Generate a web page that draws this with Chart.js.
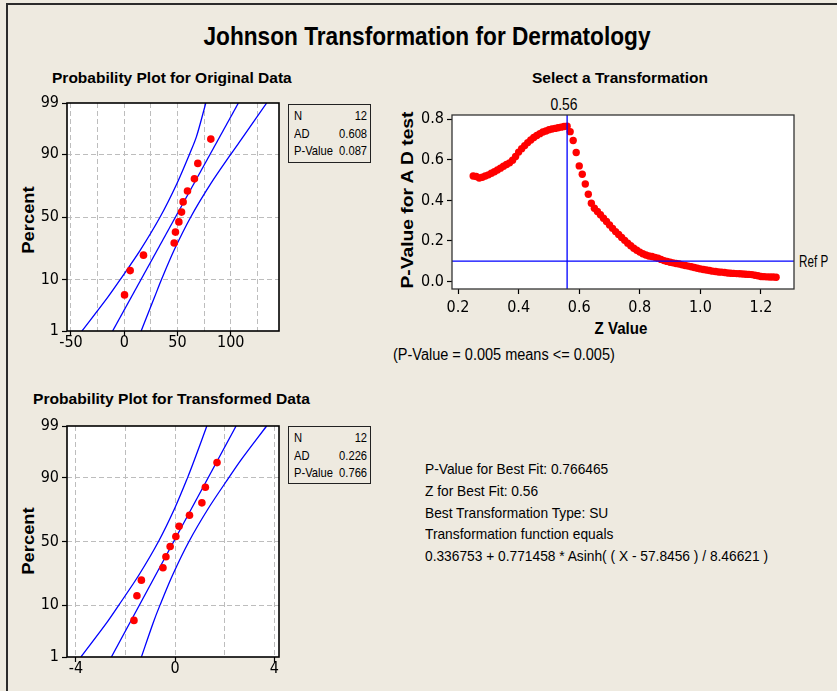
<!DOCTYPE html>
<html><head><meta charset="utf-8">
<script src="https://cdn.jsdelivr.net/npm/chart.js@4.4.1/dist/chart.umd.min.js"></script>
<style>
html,body{margin:0;padding:0;}
body{width:837px;height:691px;background:#EEEAE0;position:relative;overflow:hidden;font-family:'Liberation Sans',Arial,sans-serif;color:#000;}
.t{position:absolute;white-space:nowrap;line-height:1;}
.c{transform-origin:center center;}
.l{transform-origin:left center;}
.b{font-weight:bold;}
canvas{position:absolute;}
.frame{position:absolute;left:6px;top:3px;width:840px;height:700px;border-top:2px solid #2b2b2b;border-left:2px solid #2b2b2b;}
.box{position:absolute;border:1px solid #222;box-sizing:border-box;}
.rows{position:absolute;left:5px;top:2px;width:85px;transform-origin:left top;transform:scaleX(0.86);font-size:13px;}
.rows div{display:flex;justify-content:space-between;height:17.5px;line-height:17.5px;white-space:nowrap;}
</style></head><body>
<div class="frame"></div>
<div class="t c b" data-pre="translate(-50%,-50%)" data-w="447" style="left:426.5px;top:36px;font-size:25px;">Johnson Transformation for Dermatology</div>
<div class="t l b" data-pre="translate(0,-50%)" data-w="240" style="left:52px;top:77px;font-size:15px;">Probability Plot for Original Data</div>
<div class="t c b" data-pre="translate(-50%,-50%)" data-w="176" style="left:620px;top:77px;font-size:15px;">Select a Transformation</div>
<div class="t l b" data-pre="translate(0,-50%)" data-w="277" style="left:33px;top:398px;font-size:15px;">Probability Plot for Transformed Data</div>
<div class="t c b" data-pre="translate(-50%,-50%) rotate(-90deg)" data-w="67" style="left:28px;top:220px;font-size:17px;">Percent</div>
<div class="t c b" data-pre="translate(-50%,-50%) rotate(-90deg)" data-w="67" style="left:28px;top:541px;font-size:17px;">Percent</div>
<div class="t c b" data-pre="translate(-50%,-50%) rotate(-90deg)" data-w="177" style="left:406.5px;top:200px;font-size:16.5px;">P-Value for A D test</div>
<div class="t c b" data-pre="translate(-50%,-50%)" data-w="53" style="left:621px;top:328px;font-size:16.5px;">Z Value</div>
<div class="t c" data-pre="translate(-50%,-50%)" data-w="27" style="left:564px;top:104px;font-size:16.5px;">0.56</div>
<div class="t l" data-pre="translate(0,-50%)" data-w="29" style="left:799px;top:261px;font-size:16.5px;">Ref P</div>
<div class="t l" data-pre="translate(0,-50%)" data-w="222" style="left:393px;top:355px;font-size:16px;">(P-Value = 0.005 means &lt;= 0.005)</div>
<div class="box" style="left:288px;top:104px;width:83px;height:59px;">
  <div class="rows">
  <div><span>N</span><span>12</span></div>
  <div><span>AD</span><span>0.608</span></div>
  <div><span>P-Value</span><span>0.087</span></div>
  </div>
</div>
<div class="box" style="left:288px;top:426px;width:83px;height:58px;">
  <div class="rows">
  <div><span>N</span><span>12</span></div>
  <div><span>AD</span><span>0.226</span></div>
  <div><span>P-Value</span><span>0.766</span></div>
  </div>
</div>
<div class="t" data-pre="" data-w="343" style="left:425px;top:458px;font-size:15px;line-height:21.8px;transform-origin:left top;">
P-Value for Best Fit: 0.766465<br>Z for Best Fit: 0.56<br>Best Transformation Type: SU<br>Transformation function equals<br>0.336753 + 0.771458 * Asinh( ( X - 57.8456 ) / 8.46621 )
</div>
<canvas id="c1" width="260" height="275" style="left:30px;top:89px;"></canvas>
<canvas id="c2" width="437" height="250" style="left:400px;top:95px;"></canvas>
<canvas id="c3" width="260" height="279" style="left:30px;top:412px;"></canvas>
<script>
// ---------- data ----------
const rankPercent = [5.6, 13.7, 21.8, 29.8, 37.9, 46.0, 54.0, 62.1, 70.2, 78.2, 86.3, 94.4];
const originalData = [0.3, 5.6, 18.1, 46.9, 48.1, 51.3, 53.8, 55.3, 59.4, 65.9, 69.1, 81.3];
const transformedData = [-1.66, -1.54, -1.36, -0.49, -0.37, -0.20, 0.03, 0.16, 0.58, 1.08, 1.22, 1.69];
const fitPercent = [1, 99];
const origFit = [-10.9, 107.2];
const transFit = [-2.57, 2.46];
const bandPercent = [1, 5, 10, 25, 50, 75, 90, 95, 99];
const origLower = [-39.7, -15.7, -3.9, 15.1, 33.7, 49.3, 61.3, 67.9, 76.6];
const origUpper = [15.9, 28.3, 34.9, 46.9, 62.5, 81.1, 100.1, 111.9, 133.75];
const transLower = [-3.80, -2.77, -2.27, -1.46, -0.67, -0.01, 0.50, 0.78, 1.28];
const transUpper = [-1.36, -0.89, -0.61, -0.10, 0.56, 1.35, 2.16, 2.66, 3.69];
const probTickLabels = [1, 10, 50, 90, 99];
const origXGrid = [-50, -25, 0, 25, 50, 75, 100, 125];
const origXLabels = [-50, 0, 50, 100];
const transXGrid = [-4, -2, 0, 2, 4];
const transXLabels = [-4, 0, 4];
const zTicks = [0.2, 0.4, 0.6, 0.8, 1.0, 1.2];
const pTicks = [0.0, 0.2, 0.4, 0.6, 0.8];
const zValues = [0.25,0.26,0.27,0.28,0.29,0.30,0.31,0.32,0.33,0.34,0.35,0.36,0.37,0.38,0.39,0.40,0.41,0.42,0.43,0.44,0.45,0.46,0.47,0.48,0.49,0.50,0.51,0.52,0.53,0.54,0.55,0.56,0.57,0.58,0.59,0.60,0.61,0.62,0.63,0.64,0.65,0.66,0.67,0.68,0.69,0.70,0.71,0.72,0.73,0.74,0.75,0.76,0.77,0.78,0.79,0.80,0.81,0.82,0.83,0.84,0.85,0.86,0.87,0.88,0.89,0.90,0.91,0.92,0.93,0.94,0.95,0.96,0.97,0.98,0.99,1.00,1.01,1.02,1.03,1.04,1.05,1.06,1.07,1.08,1.09,1.10,1.11,1.12,1.13,1.14,1.15,1.16,1.17,1.18,1.19,1.20,1.21,1.22,1.23,1.24,1.25];
const pValues = [0.520,0.518,0.510,0.514,0.520,0.526,0.534,0.541,0.550,0.559,0.568,0.577,0.585,0.598,0.616,0.638,0.655,0.670,0.685,0.698,0.710,0.720,0.729,0.737,0.742,0.748,0.752,0.755,0.758,0.761,0.764,0.766,0.739,0.695,0.636,0.570,0.529,0.481,0.430,0.386,0.361,0.345,0.329,0.312,0.296,0.279,0.262,0.246,0.232,0.217,0.203,0.189,0.176,0.164,0.154,0.145,0.137,0.131,0.126,0.123,0.119,0.115,0.109,0.103,0.099,0.095,0.092,0.089,0.086,0.082,0.079,0.076,0.073,0.069,0.065,0.062,0.059,0.057,0.054,0.051,0.049,0.047,0.046,0.044,0.042,0.041,0.040,0.039,0.038,0.037,0.036,0.035,0.034,0.031,0.028,0.025,0.024,0.023,0.022,0.022,0.021];
const bestZ = 0.56;
const refP = 0.1;

// ---------- text fitting (compress text horizontally like the reference) ----------
document.querySelectorAll('[data-w]').forEach(el=>{
  const k = (+el.dataset.w) / el.offsetWidth;
  el.style.transform = (el.dataset.pre || '') + ' scaleX(' + k.toFixed(4) + ')';
});

// ---------- helpers ----------
function probit(p){
  const a=[-3.969683028665376e+01,2.209460984245205e+02,-2.759285104469687e+02,1.383577518672690e+02,-3.066479806614716e+01,2.506628277459239e+00];
  const b=[-5.447609879822406e+01,1.615858368580409e+02,-1.556989798598866e+02,6.680131188771972e+01,-1.328068155288572e+01];
  const c=[-7.784894002430293e-03,-3.223964580411365e-01,-2.400758277161838e+00,-2.549732539343734e+00,4.374664141464968e+00,2.938163982698783e+00];
  const d=[7.784695709041462e-03,3.224671290700398e-01,2.445134137142996e+00,3.754408661907416e+00];
  const pl=0.02425, ph=1-pl; let q,r;
  if(p<pl){q=Math.sqrt(-2*Math.log(p));return (((((c[0]*q+c[1])*q+c[2])*q+c[3])*q+c[4])*q+c[5])/((((d[0]*q+d[1])*q+d[2])*q+d[3])*q+1);}
  if(p<=ph){q=p-0.5;r=q*q;return (((((a[0]*r+a[1])*r+a[2])*r+a[3])*r+a[4])*r+a[5])*q/(((((b[0]*r+b[1])*r+b[2])*r+b[3])*r+b[4])*r+1);}
  q=Math.sqrt(-2*Math.log(1-p));return -(((((c[0]*q+c[1])*q+c[2])*q+c[3])*q+c[4])*q+c[5])/((((d[0]*q+d[1])*q+d[2])*q+d[3])*q+1);
}
const FONT = "'DejaVu Sans Condensed','Liberation Sans',sans-serif";
const tickFont = {family: FONT, size: 16};
const frame = (color, width) => ({
  id: 'frame',
  beforeDraw(ch){const a=ch.chartArea,c=ch.ctx;c.save();c.fillStyle='#ffffff';c.fillRect(a.left,a.top,a.right-a.left,a.bottom-a.top);c.restore();},
  afterDraw(ch){const a=ch.chartArea,c=ch.ctx;c.save();c.strokeStyle=color;c.lineWidth=width;c.strokeRect(a.left,a.top,a.right-a.left,a.bottom-a.top);c.restore();}
});
const pts = (xs, ps) => xs.map((x,i)=>({x, y: probit(ps[i]/100)}));
const lineDs = (data) => ({data, showLine:true, borderColor:'#0000FF', borderWidth:1.3, pointRadius:0, tension:0.3, fill:false});

function probChart(id, xVals, fit, lower, upper, xmin, xmax, grid, labels, yW, xH, padR){
  return new Chart(document.getElementById(id), {
    type:'scatter',
    data:{datasets:[
      {data: pts(xVals, rankPercent), backgroundColor:'#FF0000', borderColor:'#FF0000', pointRadius:3.8, pointBorderWidth:0},
      lineDs(pts(fit, fitPercent)),
      lineDs(pts(lower, bandPercent)),
      lineDs(pts(upper, bandPercent))
    ]},
    options:{
      responsive:false, animation:false, events:[],
      layout:{padding:{left:0, right:padR, top:14, bottom:0}},
      plugins:{legend:{display:false}, tooltip:{enabled:false}},
      scales:{
        x:{type:'linear', min:xmin, max:xmax,
          afterBuildTicks:s=>{s.ticks = grid.map(v=>({value:v}));},
          afterFit:s=>{s.height = xH;},
          ticks:{autoSkip:false, maxRotation:0, font:tickFont, color:'#000', padding:-3,
            callback:v=>labels.includes(v)?String(v):''},
          grid:{color:'#BDBDBD', lineWidth:1, tickLength:5, tickWidth:1.2,
            tickColor:c=>(c.tick && labels.includes(c.tick.value))?'#000':'rgba(0,0,0,0)'},
          border:{display:false, dash:[5,3]}
        },
        y:{type:'linear', min:probit(0.01), max:probit(0.99),
          afterBuildTicks:s=>{s.ticks = probTickLabels.map(p=>({value:probit(p/100)}));},
          afterFit:s=>{s.width = yW;},
          ticks:{autoSkip:false, font:tickFont, color:'#000', padding:3,
            callback:(v,i)=>String(probTickLabels[i])},
          grid:{color:c=>(c.index===0||c.index===probTickLabels.length-1)?'rgba(0,0,0,0)':'#BDBDBD',
            lineWidth:1, tickLength:5, tickWidth:1.2, tickColor:'#000'},
          border:{display:false, dash:[5,3]}
        }
      }
    },
    plugins:[frame('#000', 1.6)]
  });
}

probChart('c1', originalData, origFit, origLower, origUpper, -53.7, 145.3, origXGrid, origXLabels, 37, 33, 11);
probChart('c3', transformedData, transFit, transLower, transUpper, -4.36, 4.19, transXGrid, transXLabels, 37, 34, 11);

new Chart(document.getElementById('c2'), {
  type:'scatter',
  data:{datasets:[{data: zValues.map((z,i)=>({x:z, y:pValues[i]})), backgroundColor:'#FF0000', borderColor:'#FF0000', pointRadius:3.7, pointBorderWidth:0}]},
  options:{
    responsive:false, animation:false, events:[],
    layout:{padding:{left:0, right:43, top:20, bottom:0}},
    plugins:{legend:{display:false}, tooltip:{enabled:false}},
    scales:{
      x:{type:'linear', min:0.18, max:1.309,
        afterBuildTicks:s=>{s.ticks = zTicks.map(v=>({value:v}));},
        afterFit:s=>{s.height = 56;},
        ticks:{autoSkip:false, maxRotation:0, font:tickFont, color:'#000', padding:4, callback:v=>v.toFixed(1)},
        grid:{drawOnChartArea:false, tickLength:5, tickWidth:1.2, tickColor:'#000'},
        border:{display:false}
      },
      y:{type:'linear', min:-0.037, max:0.821,
        afterBuildTicks:s=>{s.ticks = pTicks.map(v=>({value:v}));},
        afterFit:s=>{s.width = 52;},
        ticks:{autoSkip:false, font:tickFont, color:'#000', padding:3, callback:v=>v.toFixed(1)},
        grid:{drawOnChartArea:false, tickLength:5, tickWidth:1.2, tickColor:'#000'},
        border:{display:false}
      }
    }
  },
  plugins:[frame('#333', 1.3), {
    id:'refs',
    afterDatasetsDraw(ch){
      const a=ch.chartArea, c=ch.ctx, px=ch.scales.x.getPixelForValue(bestZ), py=ch.scales.y.getPixelForValue(refP);
      c.save(); c.strokeStyle='#0000FF'; c.lineWidth=1.3; c.beginPath();
      c.moveTo(a.left,py); c.lineTo(a.right,py); c.moveTo(px,a.top); c.lineTo(px,a.bottom); c.stroke(); c.restore();
    }
  }]
});
</script>
</body></html>
